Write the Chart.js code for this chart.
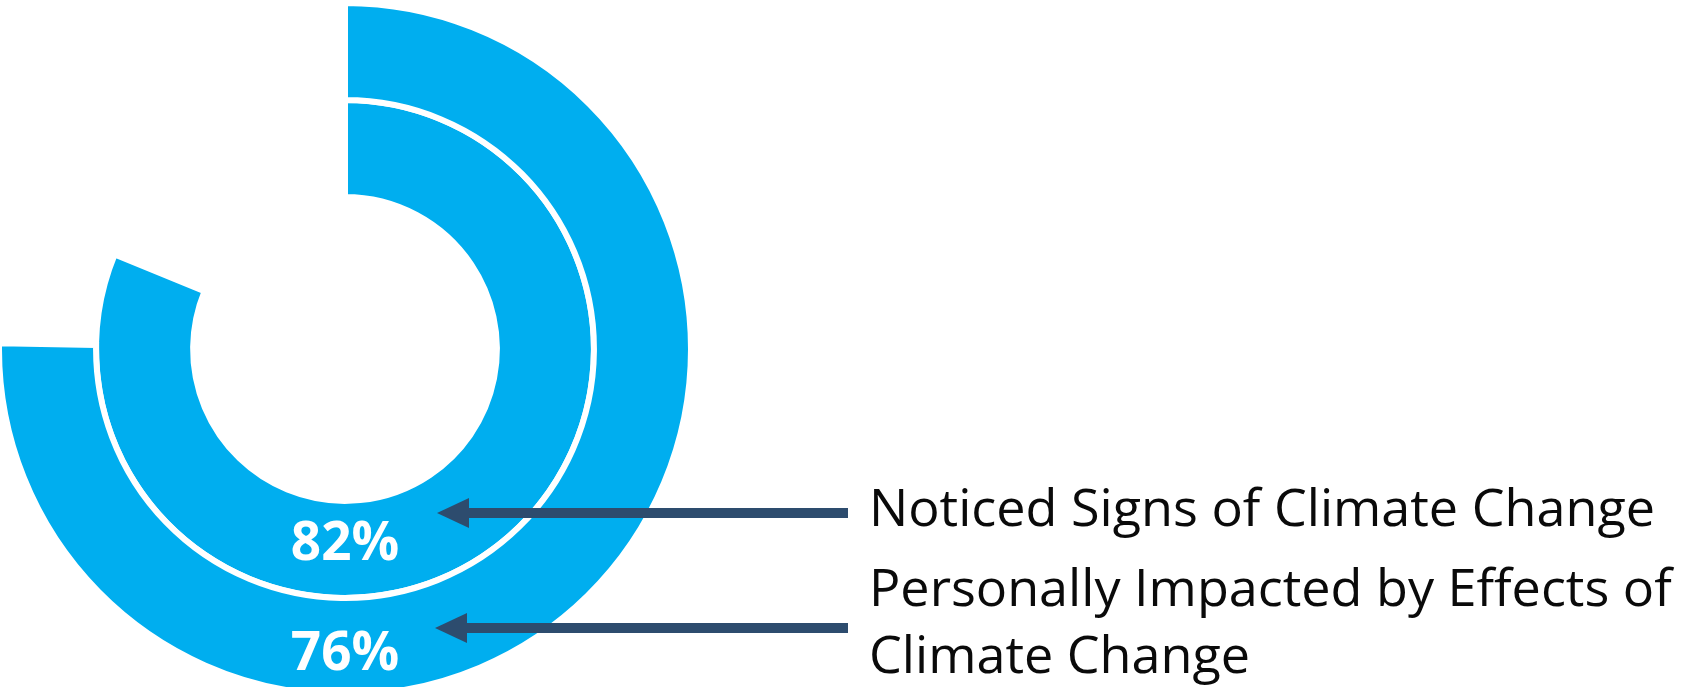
<!DOCTYPE html>
<html>
<head>
<meta charset="utf-8">
<title>Climate change survey</title>
<script src="https://cdn.jsdelivr.net/npm/chart.js@4.4.1/dist/chart.umd.min.js"></script>
<style>
    html, body { margin: 0; padding: 0; background: #ffffff; }
    #wrap { position: relative; width: 1681px; height: 687px; }
</style>
</head>
<body>
<div id="wrap"><canvas id="climateChart"></canvas></div>
<script>
// One ring per question, outer ring first
const categories = [['Personally Impacted by Effects of', 'Climate Change'], 'Noticed Signs of Climate Change'];
const shares = [76, 82];
const total = 100;

const ringColor = '#00AEEF';
const arrowColor = '#2D4C6E';

// Callout placement for each ring (same order as the data)
const callouts = [
    { arrowY: 628, tipX: 435, textY: 606, pctBaseline: 670 },
    { arrowY: 513, tipX: 437, textY: 526, pctBaseline: 560 }
];
const textX = 869;
const arrowTailX = 848;
const lineGap = 67;

const calloutPlugin = {
    id: 'callouts',
    afterDatasetsDraw(chart) {
        const ctx = chart.ctx;
        ctx.save();

        // squeeze the text horizontally so it spans the same width as the original
        ctx.font = '52px "Open Sans"';
        const sx = 786 / ctx.measureText('Noticed Signs of Climate Change').width;

        chart.data.datasets.forEach((ds, i) => {
            const arc = chart.getDatasetMeta(i).data[0];
            const p = arc.getProps(['x', 'y', 'innerRadius', 'outerRadius'], true);
            const c = callouts[i];

            // percentage inside the ring
            ctx.fillStyle = '#ffffff';
            ctx.font = 'bold 53px "Open Sans"';
            ctx.textAlign = 'center';
            ctx.textBaseline = 'alphabetic';
            ctx.fillText(ds.data[0] + '%', p.x, c.pctBaseline);

            // arrow
            const headLen = 32, headHalf = 15, shaft = 10;
            ctx.fillStyle = arrowColor;
            ctx.fillRect(c.tipX + headLen - 1, c.arrowY - shaft / 2, arrowTailX - c.tipX - headLen + 1, shaft);
            ctx.beginPath();
            ctx.moveTo(c.tipX, c.arrowY);
            ctx.lineTo(c.tipX + headLen, c.arrowY - headHalf);
            ctx.lineTo(c.tipX + headLen, c.arrowY + headHalf);
            ctx.closePath();
            ctx.fill();

            // label text
            const lines = Array.isArray(ds.label) ? ds.label : [ds.label];
            ctx.fillStyle = '#0a0a0a';
            ctx.font = '52px "Open Sans"';
            ctx.textAlign = 'left';
            lines.forEach((line, j) => {
                ctx.save();
                ctx.translate(textX, c.textY + j * lineGap);
                ctx.scale(sx, 1);
                ctx.fillText(line, 0, 0);
                ctx.restore();
            });
        });
        ctx.restore();
    }
};

new Chart(document.getElementById('climateChart'), {
    type: 'doughnut',
    data: {
        labels: ['Yes', 'Other'],
        datasets: shares.map((v, i) => ({
            label: categories[i],
            data: [v, total - v],
            backgroundColor: [ringColor, 'rgba(0,0,0,0)'],
            borderColor: '#ffffff',
            borderWidth: [6, 0],
            borderJoinStyle: 'miter',
            hoverOffset: 0,
            clip: false
        }))
    },
    options: {
        responsive: true,
        maintainAspectRatio: false,
        animation: false,
        events: [],
        rotation: 0,
        circumference: 356.5,
        cutout: '43.9%',
        radius: 346,
        layout: { padding: { left: 0, right: 991, top: 11, bottom: 0 } },
        plugins: {
            legend: { display: false },
            tooltip: { enabled: false }
        }
    },
    plugins: [calloutPlugin]
});
</script>
</body>
</html>
